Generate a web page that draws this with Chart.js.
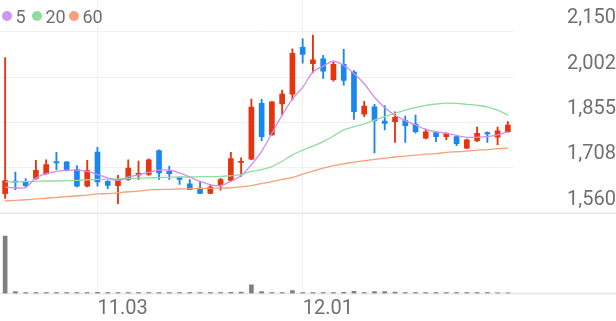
<!DOCTYPE html>
<html>
<head>
<meta charset="utf-8">
<script src="https://cdn.jsdelivr.net/npm/chart.js@4.4.1/dist/chart.umd.min.js"></script>
<style>
    html, body { margin: 0; padding: 0; background: #fff; }
    #wrap { position: relative; width: 616px; height: 321px; }
    .legend-item {
        position: absolute; top: 5px; height: 22px;
        display: flex; align-items: center;
        font: 18px Roboto, sans-serif; color: #6f6f6f;
    }
    .legend-item i { width: 10px; height: 10px; border-radius: 50%; margin-right: 3.5px; }
</style>
</head>
<body>
<div id="wrap">
    <canvas id="stockChart" width="616" height="321"></canvas>
    <div class="legend-item" style="left:2px"><i style="background:#d493ef"></i>5</div>
    <div class="legend-item" style="left:32px"><i style="background:#8fdc9f"></i>20</div>
    <div class="legend-item" style="left:69px"><i style="background:#f8a07c"></i>60</div>
</div>
<script>
// trading days shown on the x axis
const dateLabels = [
    "10.21", "10.22", "10.23", "10.24", "10.27", "10.28", "10.29", "10.30", "10.31", "11.03",
    "11.04", "11.05", "11.06", "11.07", "11.10", "11.11", "11.12", "11.13", "11.14", "11.17",
    "11.18", "11.19", "11.20", "11.21", "11.24", "11.25", "11.26", "11.27", "11.28", "12.01",
    "12.02", "12.03", "12.04", "12.05", "12.08", "12.09", "12.10", "12.11", "12.12", "12.15",
    "12.16", "12.17", "12.18", "12.19", "12.22", "12.23", "12.24", "12.26", "12.29", "12.30"
];
const markedDates = ["11.03", "12.01"];

// daily prices
const openPrices = [
    1624, 1665, 1663, 1673, 1689, 1728, 1727, 1702, 1648, 1759,
    1664, 1650, 1670, 1684, 1686, 1764, 1696, 1677, 1656, 1642,
    1625, 1653, 1667, 1725, 1736, 1917, 1815, 1915, 1947, 2099,
    2046, 2062, 1994, 2044, 2019, 1882, 1906, 1860, 1858, 1861,
    1850, 1804, 1822, 1809, 1809, 1772, 1796, 1822, 1807, 1825
];
const highPrices = [
    2066, 1694, 1673, 1732, 1734, 1758, 1728, 1715, 1732, 1774,
    1666, 1683, 1734, 1730, 1737, 1766, 1713, 1677, 1670, 1664,
    1654, 1674, 1758, 1740, 1931, 1930, 1923, 1960, 2094, 2127,
    2139, 2073, 2051, 2093, 2024, 1924, 1914, 1910, 1890, 1876,
    1879, 1834, 1823, 1822, 1812, 1801, 1840, 1825, 1840, 1858
];
const lowPrices = [
    1608, 1637, 1646, 1670, 1686, 1702, 1698, 1646, 1646, 1648,
    1640, 1591, 1667, 1670, 1683, 1670, 1670, 1654, 1637, 1624,
    1624, 1635, 1664, 1680, 1734, 1796, 1814, 1879, 1928, 2048,
    2016, 1998, 1989, 1976, 1865, 1874, 1756, 1831, 1790, 1790,
    1820, 1802, 1793, 1799, 1780, 1770, 1793, 1790, 1783, 1823
];
const closePrices = [
    1666, 1661, 1650, 1700, 1718, 1724, 1700, 1648, 1699, 1662,
    1651, 1670, 1707, 1690, 1734, 1691, 1689, 1670, 1637, 1625,
    1645, 1670, 1738, 1729, 1905, 1809, 1922, 1947, 2080, 2076,
    2059, 2022, 2044, 1992, 1890, 1908, 1861, 1852, 1872, 1845,
    1825, 1825, 1809, 1820, 1786, 1799, 1820, 1818, 1828, 1847
];

// moving averages
const ma5 = [
    1645, 1643, 1644, 1675, 1689, 1696, 1700, 1700, 1696, 1686,
    1675, 1667, 1678, 1685, 1693, 1700, 1700, 1691, 1678, 1664,
    1653, 1650, 1664, 1682, 1718, 1761, 1820, 1879, 1931, 1969,
    2019, 2038, 2054, 2040, 2014, 1981, 1937, 1903, 1879, 1861,
    1847, 1833, 1825, 1820, 1813, 1807, 1807, 1809, 1815, 1825
];
const ma20 = [
    1662, 1662, 1663, 1664, 1665, 1665, 1666, 1667, 1669, 1670,
    1671, 1672, 1673, 1674, 1675, 1676, 1677, 1678, 1678, 1679,
    1679, 1680, 1682, 1686, 1696, 1702, 1712, 1729, 1750, 1765,
    1778, 1793, 1811, 1831, 1841, 1850, 1863, 1874, 1885, 1895,
    1904, 1911, 1915, 1918, 1917, 1914, 1911, 1906, 1895, 1879
];
const ma60 = [
    1600, 1602, 1604, 1607, 1609, 1612, 1614, 1617, 1619, 1623,
    1624, 1627, 1630, 1632, 1636, 1637, 1638, 1639, 1640, 1641,
    1641, 1642, 1643, 1646, 1650, 1657, 1663, 1670, 1677, 1687,
    1697, 1707, 1715, 1721, 1726, 1731, 1735, 1739, 1743, 1746,
    1749, 1752, 1754, 1758, 1760, 1762, 1765, 1767, 1770, 1772
];

// volume (thousand shares)
const volumes = [
    5700, 180, 90, 90, 90, 90, 90, 90, 90, 110,
    90, 90, 90, 90, 90, 90, 90, 90, 90, 90,
    90, 90, 110, 150, 850, 200, 100, 100, 300, 100,
    100, 100, 100, 110, 220, 100, 200, 200, 130, 100,
    100, 90, 90, 90, 90, 80, 80, 80, 70, 60
];

const priceTicks = [1560, 1707.5, 1855, 2002.5, 2150];
const priceTickLabels = ["1,560", "1,708", "1,855", "2,002", "2,150"];

const UP_COLOR = "#e8330f";
const DOWN_COLOR = "#1a87ef";
const TEXT_COLOR = "#707070";
const GRID_COLOR = "#f0f0f0";

const candleColors = openPrices.map((o, i) => (closePrices[i] >= o ? UP_COLOR : DOWN_COLOR));
const bodies = openPrices.map((o, i) => [o, closePrices[i]]);
const wicks = lowPrices.map((l, i) => [l, highPrices[i]]);

// full width separators: price/volume split and the bottom line
const panelLines = {
    id: "panelLines",
    beforeDatasetsDraw(chart) {
        const { ctx, chartArea, scales } = chart;
        const ys = [scales.y.getPixelForValue(priceTicks[0]), chartArea.bottom];
        ctx.save();
        ctx.strokeStyle = "#ebebeb";
        ctx.lineWidth = 2;
        ys.forEach((y) => {
            ctx.beginPath();
            ctx.moveTo(0, y);
            ctx.lineTo(chart.width, y);
            ctx.stroke();
        });
        ctx.restore();
    }
};

function maLine(data, color) {
    return {
        type: "line",
        data,
        borderColor: color,
        borderWidth: 1.3,
        pointRadius: 0,
        tension: 0.35,
        fill: false,
        yAxisID: "y",
        order: 0
    };
}

const ctx = document.getElementById("stockChart").getContext("2d");
new Chart(ctx, {
    data: {
        labels: dateLabels,
        datasets: [
            maLine(ma5, "#d08cee"),
            maLine(ma20, "#8fdc9f"),
            maLine(ma60, "#f8a07c"),
            {
                type: "bar",
                data: bodies,
                backgroundColor: candleColors,
                barThickness: 5,
                minBarLength: 1,
                grouped: false,
                yAxisID: "y",
                order: 1
            },
            {
                type: "bar",
                data: wicks,
                backgroundColor: candleColors,
                barThickness: 1.2,
                grouped: false,
                yAxisID: "y",
                order: 2
            },
            {
                type: "bar",
                data: volumes,
                backgroundColor: "#7f7f7f",
                barThickness: 4,
                grouped: false,
                yAxisID: "yv",
                order: 3
            }
        ]
    },
    options: {
        responsive: false,
        animation: false,
        devicePixelRatio: 1,
        layout: { padding: 0 },
        plugins: { legend: { display: false }, tooltip: { enabled: false } },
        scales: {
            x: {
                type: "category",
                offset: true,
                afterFit: (s) => { s.height = 27.5; },
                grid: {
                    offset: false,
                    drawTicks: false,
                    color: (c) => (markedDates.includes(dateLabels[c.index]) ? GRID_COLOR : "transparent")
                },
                border: { display: false },
                ticks: {
                    autoSkip: false,
                    maxRotation: 0,
                    align: "start",
                    padding: 3.5,
                    color: TEXT_COLOR,
                    font: { family: "Roboto", size: 20 },
                    callback: (v, i) => (markedDates.includes(dateLabels[i]) ? dateLabels[i] : "")
                }
            },
            y: {
                position: "right",
                min: 1299.5,
                max: 2253,
                afterBuildTicks: (s) => { s.ticks = priceTicks.map((v) => ({ value: v })); },
                afterFit: (s) => {
                    // keep the axis column fixed and stop it padding the chart area
                    s.width = 103;
                    s.paddingTop = 0;
                    s.paddingBottom = 0;
                },
                grid: {
                    drawTicks: false,
                    color: (c) => (c.tick && c.tick.value === priceTicks[0] ? "transparent" : GRID_COLOR)
                },
                border: { display: false },
                ticks: {
                    crossAlign: "far",
                    padding: 50,
                    labelOffset: -13.5,
                    color: TEXT_COLOR,
                    font: { family: "Roboto", size: 20 },
                    callback: (v, i) => priceTickLabels[i]
                }
            },
            yv: {
                display: false,
                min: 0,
                max: 29100
            }
        }
    },
    plugins: [panelLines]
});
</script>
</body>
</html>
